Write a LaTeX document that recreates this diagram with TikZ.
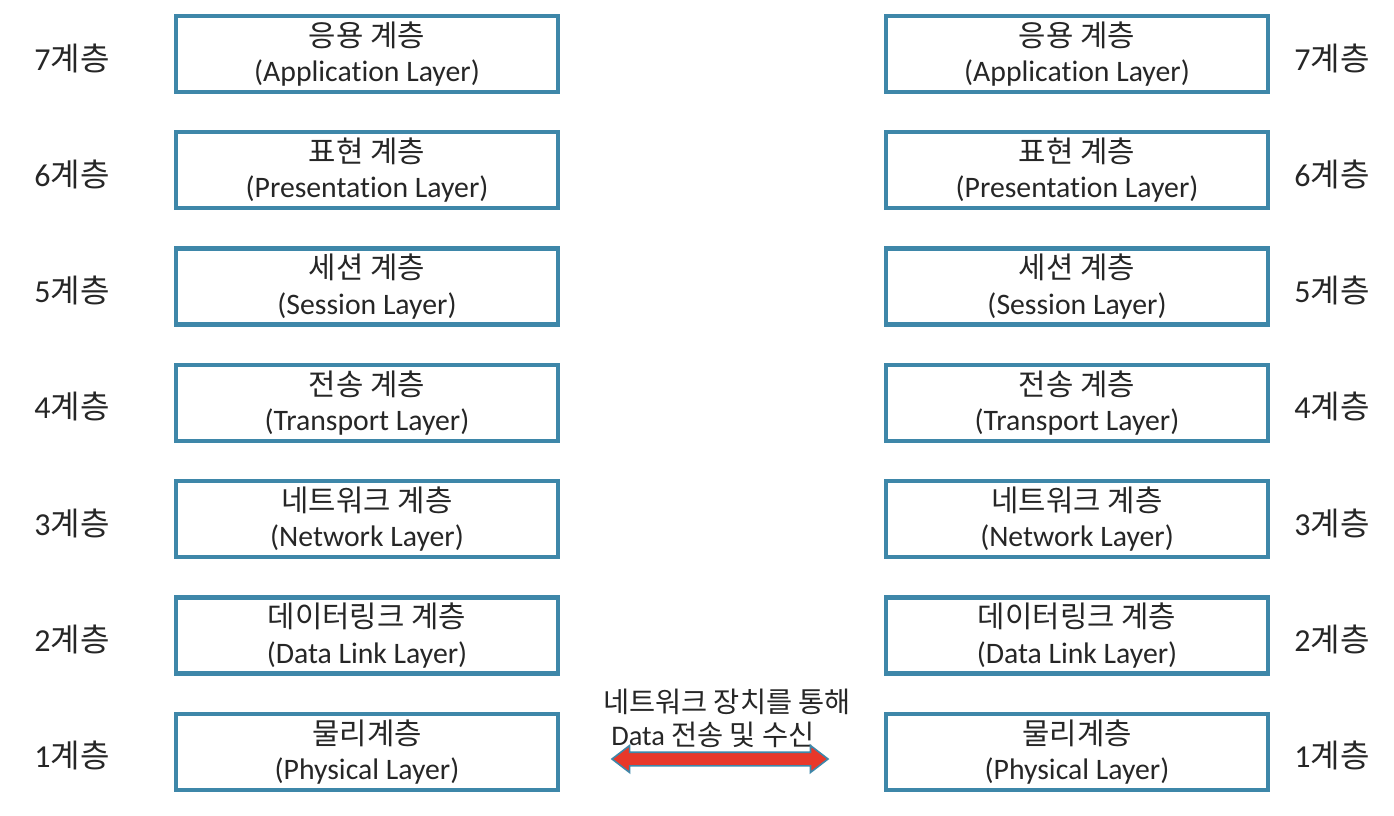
\documentclass[tikz,border=0pt]{standalone}
\usepackage{fontspec}
\setmainfont{Carlito}[Ligatures=CommonOff]
\newfontfamily\kr{Noto Sans CJK KR}
\usetikzlibrary{shapes.arrows}
\definecolor{layerblue}{HTML}{3E87A9}
\definecolor{arrowred}{HTML}{E8382A}
\definecolor{textgray}{HTML}{262626}
\tikzset{
  layerbox/.style={draw=layerblue, line width=3.2pt, minimum width=286.5pt, minimum height=57pt,
    align=center, inner sep=0pt, text=textgray, font=\fontsize{22.3}{26.5}\selectfont},
  layerlabel/.style={text=textgray, font=\fontsize{24}{28}\selectfont},
  linklabel/.style={text=textgray, font=\fontsize{21.3}{25}\selectfont}
}
\begin{document}
\begin{tikzpicture}[x=0.75pt,y=-0.75pt]
\useasboundingbox (0,0) rectangle (1394,816);
% layer boxes, both hosts
\foreach \n/\ko/\en [count=\i] in {7/응용 계층/Application Layer,6/표현 계층/Presentation Layer,
    5/세션 계층/Session Layer,4/전송 계층/Transport Layer,3/네트워크 계층/Network Layer,
    2/데이터링크 계층/Data Link Layer,1/물리계층/Physical Layer}{
  \pgfmathsetmacro{\yc}{54+116.3*(\i-1)}
  \node[layerbox] (A\n) at (367,\yc) {{\kr \ko}\\(\en)};
  \node[layerbox] (B\n) at (1077,\yc) {{\kr \ko}\\(\en)};
  \node[layerlabel] (la\n) at (72,\yc+4) {\n{\kr 계층}};
  \node[layerlabel] (lb\n) at (1332,\yc+4) {\n{\kr 계층}};
}
% link between the two physical layers
\node[linklabel] (t1) at (727,702) {\kr 네트워크 장치를 통해};
\node[linklabel] (t2) at (713,735) {Data {\kr 전송 및 수신}};
\node[double arrow, draw=layerblue, fill=arrowred, line width=1.2pt, minimum height=162pt,
  minimum width=19.5pt, inner sep=4.5pt, double arrow head extend=5pt, double arrow tip angle=75]
  (link) at (720,759) {};
\end{tikzpicture}
\end{document}
